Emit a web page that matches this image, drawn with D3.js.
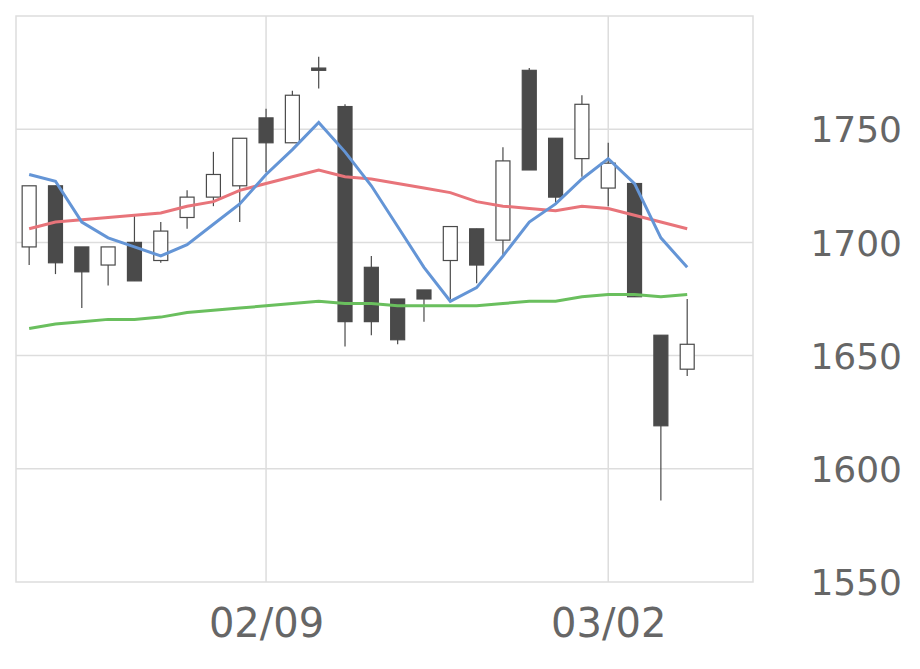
<!DOCTYPE html><html><head><meta charset="utf-8"><script src="https://cdn.jsdelivr.net/npm/d3@7"></script>
<style>body{margin:0;background:#fff}</style></head><body><svg id="c" width="920" height="669"></svg>
<script>
const dates=["01/27","01/28","01/29","01/30","02/02","02/03","02/04","02/05","02/06","02/09","02/10","02/12","02/13","02/16","02/17","02/18","02/19","02/20","02/24","02/25","02/26","02/27","03/02","03/03","03/04","03/05"];
const open =[1698,1725,1698,1690,1700,1692,1711,1720,1725,1755,1744,1777,1760,1689,1675,1679,1692,1706,1701,1776,1746,1737,1724,1726,1659,1644];
const close=[1725,1691,1687,1698,1683,1705,1720,1730,1746,1744,1765,1776,1665,1665,1657,1675,1707,1690,1736,1732,1720,1761,1735,1676,1619,1655];
const high =[1725,1725,1698,1698,1712,1709,1723,1740,1746,1759,1767,1782,1761,1694,1675,1679,1707,1706,1742,1777,1746,1765,1744,1726,1659,1675];
const low  =[1690,1686,1671,1681,1683,1691,1706,1716,1709,1731,1744,1768,1654,1659,1655,1665,1675,1682,1694,1732,1717,1729,1716,1676,1586,1641];
const maShort=[1730,1727,1709,1702,1698,1694,1699,1708,1717,1730,1741,1753,1740,1725,1707,1689,1674,1680,1694,1709,1717,1728,1737,1726,1702,1689];
const maMid=[1706,1709,1710,1711,1712,1713,1716,1718,1723,1726,1729,1732,1729,1728,1726,1724,1722,1718,1716,1715,1714,1716,1715,1712,1709,1706];
const maLong=[1662,1664,1665,1666,1666,1667,1669,1670,1671,1672,1673,1674,1673,1673,1672,1672,1672,1672,1673,1674,1674,1676,1677,1677,1676,1677];
const yTicks=[1550,1600,1650,1700,1750];
const xTickDates=["02/09","03/02"];
const svg=d3.select("#c");
const L=16,R=753,T=16,B=582;
const x=d3.scaleLinear().domain([-0.5,dates.length+1.5]).range([L,R]);
const y=d3.scaleLinear().domain([1550,1800]).range([B,T]);
const g=svg.append("g");
yTicks.forEach(t=>{ if(t>1550) g.append("line").attr("x1",L).attr("x2",R).attr("y1",y(t)).attr("y2",y(t)).attr("stroke","#ddd").attr("stroke-width",1.5);});
xTickDates.forEach(d=>{const i=dates.indexOf(d);g.append("line").attr("x1",x(i)).attr("x2",x(i)).attr("y1",T).attr("y2",B).attr("stroke","#ddd").attr("stroke-width",1.5);});
g.append("rect").attr("x",L).attr("y",T).attr("width",R-L).attr("height",B-T).attr("fill","none").attr("stroke","#ddd").attr("stroke-width",1.5);
const yAx=svg.append("g").attr("transform",`translate(${R},0)`).call(d3.axisRight(y).tickValues(yTicks).tickFormat(d3.format("d")).tickSize(0).tickPadding(0));
yAx.select(".domain").remove();
yAx.selectAll("text").attr("x",902-R).attr("text-anchor","end").attr("font-family","DejaVu Sans").attr("font-size",36).attr("fill","#666").attr("dy","0.35em");
const xAx=svg.append("g").attr("transform",`translate(0,${B})`).call(d3.axisBottom(x).tickValues(xTickDates.map(d=>dates.indexOf(d))).tickFormat(i=>dates[i]).tickSize(0).tickPadding(0));
xAx.select(".domain").remove();
xAx.selectAll("text").attr("y",55).attr("dy",0).attr("font-family","DejaVu Sans").attr("font-size",40).attr("fill","#666");
const w=14;
dates.forEach((d,i)=>{
  const up=close[i]>=open[i];
  g.append("line").attr("x1",x(i)).attr("x2",x(i)).attr("y1",y(high[i])).attr("y2",y(low[i])).attr("stroke","#4a4a4a").attr("stroke-width",1.2);
  const top=Math.max(open[i],close[i]),bot=Math.min(open[i],close[i]);
  g.append("rect").attr("x",x(i)-w/2).attr("y",y(top)).attr("width",w).attr("height",Math.max(2,y(bot)-y(top)))
   .attr("fill",up?"#fff":"#4a4a4a").attr("stroke","#4a4a4a").attr("stroke-width",1.2);
});
const line=d3.line().x((d,i)=>x(i)).y(d=>y(d));
[[maLong,"#6abf5e"],[maMid,"#e8747a"],[maShort,"#6495d6"]].forEach(([s,c])=>g.append("path").attr("d",line(s)).attr("fill","none").attr("stroke",c).attr("stroke-width",3));
</script></body></html>
